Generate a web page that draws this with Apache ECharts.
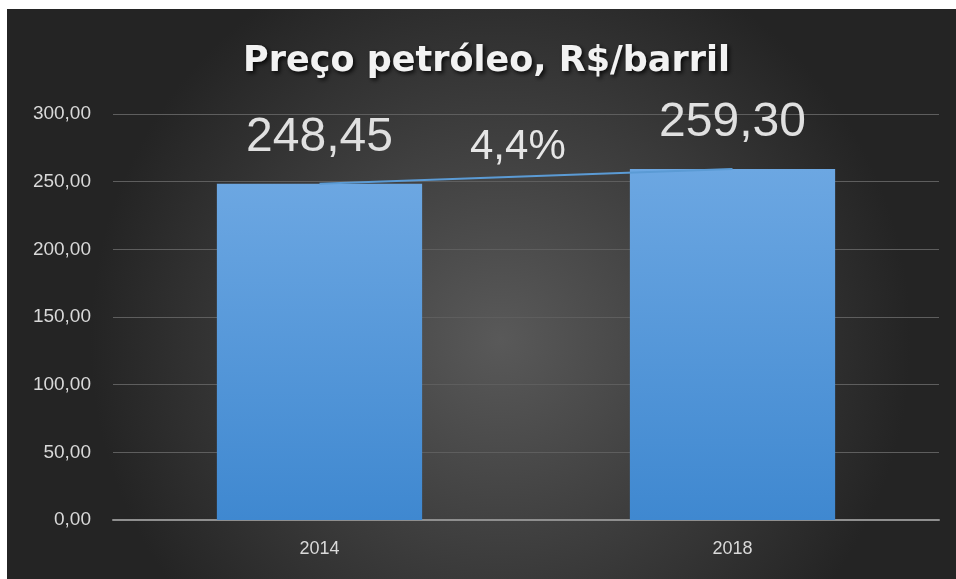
<!DOCTYPE html>
<html>
<head>
<meta charset="utf-8">
<script src="https://cdn.jsdelivr.net/npm/echarts@6/dist/echarts.min.js"></script>
<style>html,body{margin:0;padding:0;background:#fff}#c{width:956px;height:579px}</style>
</head>
<body>
<div id="c"></div>
<script>
const titleText = "Preço petróleo, R$/barril";
const categories = ["2014", "2018"];
const prices = [248.45, 259.30];
const changeLabel = "4,4%";
const yTicks = { min: 0, max: 300, interval: 50 };

const fmt = v => Number(v).toFixed(2).replace('.', ',');
const chart = echarts.init(document.getElementById('c'), null, { renderer: 'canvas' });
const FONT = '"Liberation Sans", "Open Sans", sans-serif';

chart.setOption({
  backgroundColor: '#ffffff',
  animation: false,
  title: {
    text: titleText,
    left: 238,
    top: 39,
    textStyle: {
      color: '#f2f2f2', fontSize: 35, fontWeight: 'bold', fontFamily: '"DejaVu Sans", sans-serif',
      textShadowColor: 'rgba(0,0,0,0.85)', textShadowBlur: 4,
      textShadowOffsetX: 2, textShadowOffsetY: 2
    }
  },
  graphic: [
    {
      type: 'rect', z: -100, silent: true,
      shape: { x: 7, y: 9, width: 949, height: 570 },
      style: {
        fill: {
          type: 'radial', x: 0.52, y: 0.58, r: 0.72,
          colorStops: [
            { offset: 0, color: '#595959' },
            { offset: 1, color: '#242424' }
          ]
        }
      }
    },
    {
      type: 'text', left: 470, top: 126, z: 10,
      style: { text: changeLabel, fill: '#e6e6e6', font: '42px ' + FONT }
    }
  ],
  grid: { left: 113, right: 17, top: 114, bottom: 59, containLabel: false },
  xAxis: {
    type: 'category',
    data: categories,
    axisLine: { lineStyle: { color: '#8f8f8f', width: 2 } },
    axisTick: { show: false },
    axisLabel: { color: '#d9d9d9', fontSize: 18, fontFamily: FONT, margin: 20 }
  },
  yAxis: {
    type: 'value',
    min: yTicks.min, max: yTicks.max, interval: yTicks.interval,
    axisLine: { show: false },
    axisTick: { show: false },
    splitLine: { lineStyle: { color: '#5e5e5e', width: 1 } },
    axisLabel: { color: '#d9d9d9', fontSize: 19, fontFamily: FONT, margin: 22, formatter: v => fmt(v) }
  },
  series: [
    {
      type: 'bar',
      data: prices,
      barWidth: '49.7%',
      itemStyle: {
        color: {
          type: 'linear', x: 0, y: 0, x2: 0, y2: 1,
          colorStops: [
            { offset: 0, color: '#6ca7e2' },
            { offset: 1, color: '#3f88d0' }
          ]
        }
      },
      label: {
        show: true, position: 'top', distance: 22,
        color: '#e0e0e0', fontSize: 48, fontFamily: FONT,
        formatter: p => fmt(p.value)
      },
      z: 2
    },
    {
      type: 'line',
      data: prices,
      symbol: 'none',
      lineStyle: { color: '#5b9bd5', width: 2 },
      z: 3
    }
  ]
});
</script>
</body>
</html>
